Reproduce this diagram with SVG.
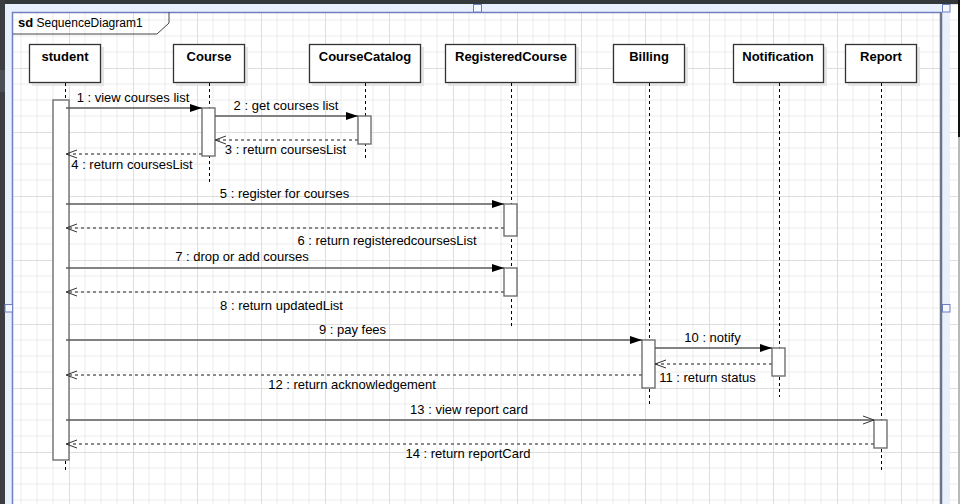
<svg xmlns="http://www.w3.org/2000/svg" width="960" height="504" viewBox="0 0 960 504">
<defs>
<pattern id="grid" patternUnits="userSpaceOnUse" x="5" y="4" width="64" height="64">
<path d="M16,0V64M32,0V64M48,0V64M0,16H64M0,32H64M0,48H64" stroke="#ececec" stroke-width="1" fill="none"/>
<path d="M0.5,0V64M0,0.5H64" stroke="#dedede" stroke-width="1" fill="none"/>
</pattern>
<marker id="fill" viewBox="0 0 12 8" refX="12" refY="4" markerWidth="12" markerHeight="8" markerUnits="userSpaceOnUse" orient="auto">
<path d="M0,0L12,4L0,8z" fill="#000"/>
</marker>
<marker id="open" viewBox="0 0 12 10" refX="11" refY="5" markerWidth="12" markerHeight="10" markerUnits="userSpaceOnUse" orient="auto">
<path d="M0,1L11,5L0,9" fill="none" stroke="#333" stroke-width="1"/>
</marker>
</defs>
<style>
.hdr{fill:#fff;stroke:#333;stroke-width:1.3}
.shd{fill:#e6e6e6}
.hdt{font-family:"Liberation Sans",Arial,sans-serif;font-size:13px;font-weight:bold;fill:#000;text-anchor:middle}
.ll{stroke:#000;stroke-width:1;stroke-dasharray:3 3;fill:none}
.act{fill:#fff;stroke:#6f6f6f;stroke-width:1.4}
.msg{stroke:#5a5a5a;stroke-width:1.3;fill:none}
.ret{stroke:#666;stroke-width:1.3;stroke-dasharray:3 3;fill:none}
.lbl{font-family:"Liberation Sans",Arial,sans-serif;font-size:13px;fill:#000;text-anchor:middle}
.hdl{fill:#f4f7fe;stroke:#6a7fc4;stroke-width:1}
</style>
<rect x="0" y="0" width="960" height="504" fill="#fff"/>
<rect x="5" y="4" width="953" height="500" fill="url(#grid)"/>
<g id="chrome">
<rect x="0" y="0" width="960" height="4" fill="#33383b"/>
<rect x="0" y="0" width="5" height="504" fill="#3a3e41"/>
<rect x="0" y="70" width="5" height="22" fill="#4a4f53"/>
<rect x="958" y="0" width="2" height="137" fill="#111"/>
<rect x="958" y="137" width="2" height="367" fill="#b8b8b8"/>
<rect x="5" y="4" width="945" height="8" fill="#e8f0fd"/>
<rect x="5" y="4" width="7" height="500" fill="#e8f0fd"/>
<rect x="942" y="4" width="8" height="500" fill="#e8f0fd"/>
</g>
<g id="frame">
<path d="M12.5,504V12.5H941" fill="none" stroke="#6f7fc0" stroke-width="1.5"/>
<path d="M941,12V504" fill="none" stroke="#6d7486" stroke-width="2.5"/>
<path d="M13,34H157L169,23V12" fill="none" stroke="#444" stroke-width="1"/>
<text x="18" y="27" font-family="'Liberation Sans',Arial,sans-serif" font-size="12" fill="#000"><tspan font-weight="bold" font-size="13">sd</tspan> SequenceDiagram1</text>
</g>
<g id="handles">
<rect class="hdl" x="473.5" y="4.5" width="8" height="7.5"/>
<rect class="hdl" x="942.5" y="4.5" width="7.5" height="7.5"/>
<rect class="hdl" x="942.5" y="304.5" width="7.5" height="7.5"/>
<rect class="hdl" x="5" y="304.5" width="7.5" height="7.5"/>
</g>
<g id="student">
<rect class="shd" x="32" y="47" width="72" height="39"/>
<rect class="hdr" x="29.5" y="44.5" width="71" height="38"/>
<text class="hdt" x="65" y="61">student</text>
<path class="ll" d="M65.5,83V470"/>
<rect class="act" x="53" y="100" width="16" height="360"/>
</g>
<g id="course">
<rect class="shd" x="176" y="47" width="72" height="39"/>
<rect class="hdr" x="173.5" y="44.5" width="71" height="38"/>
<text class="hdt" x="209" y="61">Course</text>
<path class="ll" d="M209.5,83V182"/>
<rect class="act" x="202" y="108" width="13" height="48"/>
</g>
<g id="coursecatalog">
<rect class="shd" x="312" y="47" width="112" height="39"/>
<rect class="hdr" x="309.5" y="44.5" width="111" height="38"/>
<text class="hdt" x="365" y="61">CourseCatalog</text>
<path class="ll" d="M365.5,83V160"/>
<rect class="act" x="358" y="116" width="13" height="28"/>
</g>
<g id="registeredcourse">
<rect class="shd" x="448" y="47" width="131" height="39"/>
<rect class="hdr" x="445.5" y="44.5" width="130" height="38"/>
<text class="hdt" x="511" y="61">RegisteredCourse</text>
<path class="ll" d="M511.5,83V326"/>
<rect class="act" x="504" y="204" width="13" height="32"/>
<rect class="act" x="504" y="268" width="13" height="28"/>
</g>
<g id="billing">
<rect class="shd" x="616" y="47" width="72" height="39"/>
<rect class="hdr" x="613.5" y="44.5" width="71" height="38"/>
<text class="hdt" x="649" y="61">Billing</text>
<path class="ll" d="M649.5,83V405"/>
<rect class="act" x="642" y="340" width="13" height="48"/>
</g>
<g id="notification">
<rect class="shd" x="736" y="47" width="91" height="39"/>
<rect class="hdr" x="733.5" y="44.5" width="90" height="38"/>
<text class="hdt" x="778" y="61">Notification</text>
<path class="ll" d="M779.5,83V397"/>
<rect class="act" x="772" y="348" width="13" height="28"/>
</g>
<g id="report">
<rect class="shd" x="848" y="47" width="72" height="39"/>
<rect class="hdr" x="845.5" y="44.5" width="71" height="38"/>
<text class="hdt" x="881" y="61">Report</text>
<path class="ll" d="M881.5,83V470"/>
<rect class="act" x="874" y="420" width="13" height="28"/>
</g>
<g id="connectors">
<path class="msg" d="M66,108H202" marker-end="url(#fill)"/>
<text class="lbl" x="133" y="102">1 : view courses list</text>
<path class="msg" d="M215,116H358" marker-end="url(#fill)"/>
<text class="lbl" x="286" y="110">2 : get courses list</text>
<path class="ret" d="M358,140H215" marker-end="url(#open)"/>
<text class="lbl" x="285.5" y="153.5">3 : return coursesList</text>
<path class="ret" d="M202,154H66" marker-end="url(#open)"/>
<text class="lbl" x="132" y="168.5">4 : return coursesList</text>
<path class="msg" d="M66,204H504" marker-end="url(#fill)"/>
<text class="lbl" x="284.5" y="198">5 : register for courses</text>
<path class="ret" d="M504,228H66" marker-end="url(#open)"/>
<text class="lbl" x="387" y="244.5">6 : return registeredcoursesList</text>
<path class="msg" d="M66,268H504" marker-end="url(#fill)"/>
<text class="lbl" x="242" y="261">7 : drop or add courses</text>
<path class="ret" d="M504,292H66" marker-end="url(#open)"/>
<text class="lbl" x="281.5" y="310">8 : return updatedList</text>
<path class="msg" d="M66,340H642" marker-end="url(#fill)"/>
<text class="lbl" x="352.5" y="334">9 : pay fees</text>
<path class="msg" d="M655,348H772" marker-end="url(#fill)"/>
<text class="lbl" x="712.5" y="341.5">10 : notify</text>
<path class="ret" d="M772,364H655" marker-end="url(#open)"/>
<text class="lbl" x="707.5" y="381.5">11 : return status</text>
<path class="ret" d="M642,375H66" marker-end="url(#open)"/>
<text class="lbl" x="352" y="388.5">12 : return acknowledgement</text>
<path class="msg" d="M66,420H874" marker-end="url(#open)"/>
<text class="lbl" x="469" y="414">13 : view report card</text>
<path class="ret" d="M874,444H66" marker-end="url(#open)"/>
<text class="lbl" x="468" y="458">14 : return reportCard</text>
</g>
</svg>
